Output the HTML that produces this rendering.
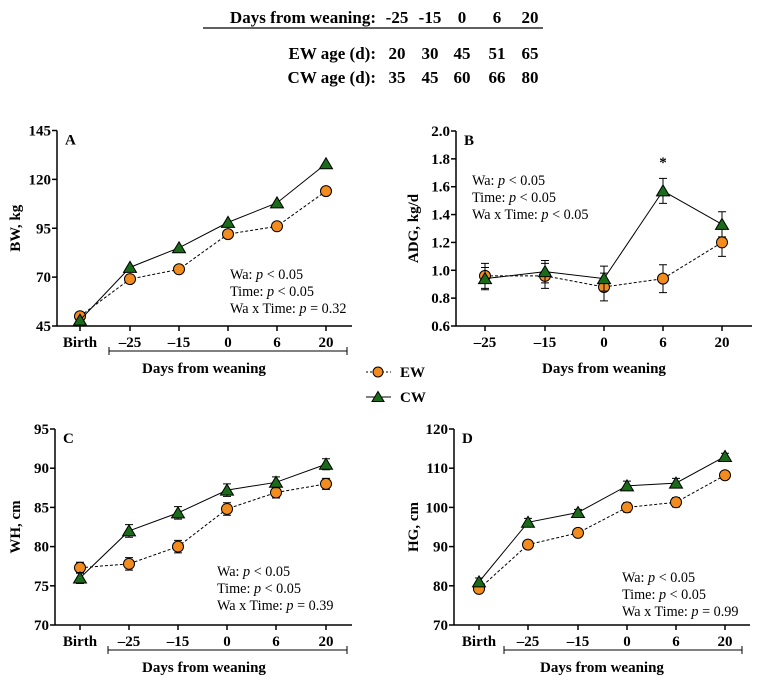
<!DOCTYPE html>
<html><head><meta charset="utf-8"><style>
body{margin:0;background:#fff}
svg{display:block;font-family:"Liberation Serif",serif}
.t{font-weight:bold;font-size:15px}
.s{font-size:14.2px}
</style></head><body>
<svg id="c" width="758" height="682" xmlns="http://www.w3.org/2000/svg">
<g font-weight="bold" font-size="17">
<text x="376" y="23" text-anchor="end">Days from weaning:</text>
<line x1="203" y1="28" x2="543" y2="28" stroke="#000" stroke-width="1.2"/>
<text x="376" y="59" text-anchor="end">EW age (d):</text>
<text x="376" y="83" text-anchor="end">CW age (d):</text>
</g>
<g>
<line x1="366" y1="372" x2="391" y2="372" stroke="#000" stroke-dasharray="2,2"/>
<circle cx="378" cy="372" r="5" fill="#f28c1e" stroke="#000"/>
<text x="400" y="377" class="t" font-size="15">EW</text>
<line x1="366" y1="397" x2="391" y2="397" stroke="#000"/>
<polygon points="378,391.5 384,401.5 372,401.5" fill="#1a6b1a" stroke="#000"/>
<text x="400" y="402" class="t" font-size="15">CW</text>
</g>
</svg>
<script>
const tableCols=["-25","-15","0","6","20"];
const ewAge=["20","30","45","51","65"];
const cwAge=["35","45","60","66","80"];
const catsFull=["Birth","\u201325","\u201315","0","6","20"];
const catsB=["\u201325","\u201315","0","6","20"];
const bwEW=[50,69,74,92,96,114];
const bwCW=[48,75,85,98,108,128];
const adgEW=[0.96,0.96,0.88,0.94,1.20];
const adgCW=[0.94,0.99,0.94,1.57,1.33];
const adgErrEW=[0.09,0.09,0.1,0.1,0.1];
const adgErrCW=[0.08,0.08,0.09,0.09,0.09];
const whEW=[77.3,77.8,80,84.8,86.9,88];
const whCW=[76,82,84.3,87.2,88.2,90.5];
const whErr=[0.7,0.8,0.8,0.8,0.7,0.7];
const hgEW=[79.2,90.5,93.5,100,101.3,108.2];
const hgCW=[81,96.2,98.7,105.5,106.2,113];
const hgErr=[1,1,0.8,1.2,1.2,0.8];
const NS="http://www.w3.org/2000/svg";
const svg=document.getElementById('c');
function mk(tag,at,par){const e=document.createElementNS(NS,tag);for(const k in at)e.setAttribute(k,at[k]);(par||svg).appendChild(e);return e;}
const tx=[397,430,462,497,530];
tableCols.forEach((v,i)=>{const t=mk('text',{x:tx[i],y:23,'text-anchor':'middle','font-weight':'bold','font-size':17});t.textContent=v;

});
ewAge.forEach((v,i)=>{const t=mk('text',{x:tx[i],y:59,'text-anchor':'middle','font-weight':'bold','font-size':17});t.textContent=v;

});
cwAge.forEach((v,i)=>{const t=mk('text',{x:tx[i],y:83,'text-anchor':'middle','font-weight':'bold','font-size':17});t.textContent=v;

});

function panel(o){
 const g=mk('g',{});
 
 
 const y=v=>o.y0+(v-o.min)/(o.max-o.min)*(o.y1-o.y0);
 const x=i=>o.xs[i];
 mk('line',{x1:o.ax,y1:o.y1,x2:o.ax,y2:o.y0,stroke:'#000','stroke-width':1.5},g);
 mk('line',{x1:o.ax,y1:o.y0,x2:o.xend,y2:o.y0,stroke:'#000','stroke-width':1.5},g);
 for(let v=o.min;v<=o.max+1e-9;v+=o.step){
  mk('line',{x1:o.ax-5,y1:y(v),x2:o.ax,y2:y(v),stroke:'#000','stroke-width':1.5},g);
  const t=mk('text',{x:o.ax-6,y:y(v)+5,'text-anchor':'end',class:'t'},g);t.textContent=v.toFixed(o.dec);
  
  
 }
 o.cats.forEach((c,i)=>{
  mk('line',{x1:x(i),y1:o.y0,x2:x(i),y2:o.y0+5,stroke:'#000','stroke-width':1.5},g);
  const t=mk('text',{x:x(i),y:o.y0+21,'text-anchor':'middle',class:'t'},g);t.textContent=c;
  
  
 });
 if(o.br){mk('path',{d:`M${o.br[0]},${o.y0+21} v8 M${o.br[0]},${o.y0+25} H${o.br[1]} M${o.br[1]},${o.y0+21} v8`,stroke:'#000',fill:'none'},g);}
 const xt=mk('text',{x:o.tx,y:o.y0+47,'text-anchor':'middle',class:'t','font-size':15.7},g);xt.textContent='Days from weaning';
 
 
 const yt=mk('text',{x:0,y:0,'text-anchor':'middle',class:'t','font-size':16.8,transform:`translate(${o.yx},${(o.y0+o.y1)/2}) rotate(-90)`},g);yt.textContent=o.ytitle;
 
 
 const lt=mk('text',{x:o.ax+8,y:o.y1+14,class:'t','font-size':17},g);lt.textContent=o.letter;
 
 
 o.stats.forEach((s,k)=>{const t=mk('text',{x:o.sx,y:o.sy+k*17,class:'s'},g);
  t.innerHTML=s;
  
  });
 [[o.ew,o.eErr,'ew'],[o.cw,o.cErr,'cw']].forEach(([d,er,nm])=>{
  const p=mk('polyline',{points:d.map((v,i)=>x(i)+','+y(v)).join(' '),fill:'none',stroke:'#000','stroke-width':1,'stroke-dasharray':nm=='ew'?'3,2':'none'},g);
  
  
  d.forEach((v,i)=>{
   const e=er?er[i]:0;
   if(e){mk('path',{d:`M${x(i)},${y(v-e)}V${y(v+e)}M${x(i)-4},${y(v-e)}h8M${x(i)-4},${y(v+e)}h8`,stroke:'#000',fill:'none'},g);}
   let m;
   if(nm=='ew')m=mk('circle',{cx:x(i),cy:y(v),r:5.5,fill:'#f28c1e',stroke:'#000'},g);
   else m=mk('polygon',{points:`${x(i)},${y(v)-6} ${x(i)+6.5},${y(v)+5} ${x(i)-6.5},${y(v)+5}`,fill:'#1a6b1a',stroke:'#000'},g);
   
   
  });
 });
 return {g,x,y};
}
const S1='Wa: <tspan font-style="italic">p</tspan> &lt; 0.05',S2='Time: <tspan font-style="italic">p</tspan> &lt; 0.05';
panel({letter:'A',ax:57,xend:352,y0:326,y1:130.5,min:45,max:145,step:25,dec:0,xs:[80,130,179,228,277,326],cats:catsFull,br:[109,347],tx:204,yx:20,ytitle:'BW, kg',
 ew:bwEW,cw:bwCW,eErr:[1.5,1.5,1.5,1.5,1.5,1.5],cErr:null,sx:230,sy:279,stats:[S1,S2,'Wa x Time: <tspan font-style="italic">p</tspan> = 0.32']});
const pb=panel({letter:'B',ax:456,xend:752,y0:326,y1:131,min:0.6,max:2.0,step:0.2,dec:1,xs:[485,545,604,663,722],cats:catsB,br:null,tx:604,yx:418,ytitle:'ADG, kg/d',
 ew:adgEW,cw:adgCW,eErr:adgErrEW,cErr:adgErrCW,sx:472,sy:185,stats:[S1,S2,'Wa x Time: <tspan font-style="italic">p</tspan> &lt; 0.05']});
const st=mk('text',{x:pb.x(3),y:pb.y(adgCW[3])-24,'text-anchor':'middle',class:'t','font-size':18});st.textContent='*';


panel({letter:'C',ax:55,xend:352,y0:625,y1:429,min:70,max:95,step:5,dec:0,xs:[80,129,178,227,276,326],cats:catsFull,br:[108,347],tx:204,yx:20,ytitle:'WH, cm',
 ew:whEW,cw:whCW,eErr:whErr,cErr:whErr,sx:217,sy:576,stats:[S1,S2,'Wa x Time: <tspan font-style="italic">p</tspan> = 0.39']});
panel({letter:'D',ax:454,xend:750,y0:625,y1:429,min:70,max:120,step:10,dec:0,xs:[479,528,578,627,676,725],cats:catsFull,br:[504,742],tx:602,yx:418,ytitle:'HG, cm',
 ew:hgEW,cw:hgCW,eErr:hgErr,cErr:hgErr,sx:622,sy:582,stats:[S1,S2,'Wa x Time: <tspan font-style="italic">p</tspan> = 0.99']});
</script>
</body></html>
